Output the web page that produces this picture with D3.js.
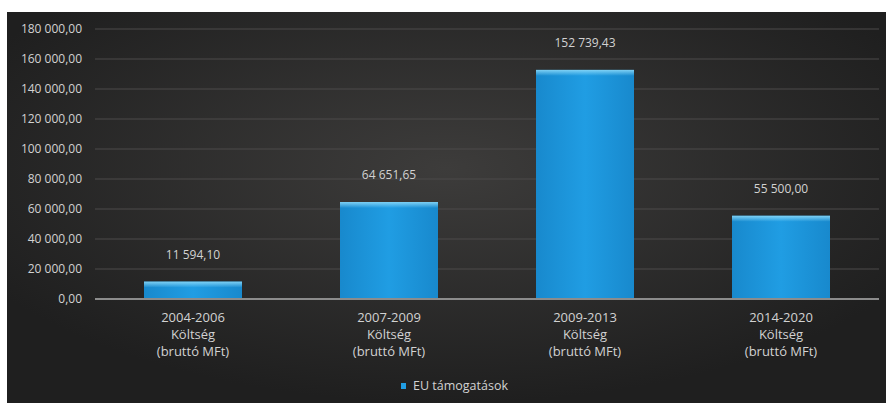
<!DOCTYPE html>
<html>
<head>
<meta charset="utf-8">
<script src="https://cdn.jsdelivr.net/npm/d3@7"></script>
<style>
  body { margin: 0; background: #fff; }
  text { font-family: "Open Sans", sans-serif; }
</style>
</head>
<body>
<svg id="chart" width="886" height="403"></svg>
<script>
// Periods (category labels, three lines each)
var periods = ['2004-2006', '2007-2009', '2009-2013', '2014-2020'];
var subLines = ['Költség', '(bruttó MFt)'];
// EU support values
var euValues = [11594.10, 64651.65, 152739.43, 55500.00];
var seriesName = 'EU támogatások';
var yTicks = [0, 20000, 40000, 60000, 80000, 100000, 120000, 140000, 160000, 180000];

var svg = d3.select('#chart');

// Hungarian style numbers: space thousands, comma decimals
var huLocale = d3.formatLocale({ decimal: ',', thousands: '\u00a0', grouping: [3], currency: ['', ''] });
var fmt = huLocale.format(',.2f');

var defs = svg.append('defs');

// Dark background with a lighter centre
var bg = defs.append('radialGradient').attr('id', 'bgGrad')
    .attr('cx', '50%').attr('cy', '40%').attr('r', '60%');
bg.append('stop').attr('offset', '0%').attr('stop-color', '#3d3c3b');
bg.append('stop').attr('offset', '100%').attr('stop-color', '#1f1f1f');

var barGrad = defs.append('linearGradient').attr('id', 'barGrad')
    .attr('x1', 0).attr('x2', 1).attr('y1', 0).attr('y2', 0);
barGrad.append('stop').attr('offset', '0%').attr('stop-color', '#1889cd');
barGrad.append('stop').attr('offset', '50%').attr('stop-color', '#209de3');
barGrad.append('stop').attr('offset', '100%').attr('stop-color', '#1889cd');

// Soft highlight on the bar tops
var topGrad = defs.append('linearGradient').attr('id', 'topGrad')
    .attr('x1', 0).attr('x2', 0).attr('y1', 0).attr('y2', 1);
topGrad.append('stop').attr('offset', '0%').attr('stop-color', '#8ad8f8').attr('stop-opacity', 0.9);
topGrad.append('stop').attr('offset', '100%').attr('stop-color', '#8ad8f8').attr('stop-opacity', 0);

svg.append('rect')
    .attr('x', 7).attr('y', 12)
    .attr('width', 879).attr('height', 391)
    .attr('fill', 'url(#bgGrad)');

var margin = { left: 95, right: 7, top: 29, bottom: 104 };
var width = 886 - margin.left - margin.right,
    height = 403 - margin.top - margin.bottom;

var g = svg.append('g')
    .attr('transform', 'translate(' + margin.left + ',' + margin.top + ')');

var x = d3.scaleBand()
    .domain(periods)
    .range([0, width])
    .paddingInner(0.5)
    .paddingOuter(0.25);

var y = d3.scaleLinear()
    .domain([0, 180000])
    .range([height, 0]);

// Gridlines
g.append('g')
    .selectAll('line')
    .data(yTicks.slice(1))
    .enter()
    .append('line')
    .attr('x1', 0).attr('x2', width)
    .attr('y1', function(d) { return y(d); })
    .attr('y2', function(d) { return y(d); })
    .attr('stroke', '#4c4b4a')
    .attr('stroke-width', 1);

// Y axis labels
var yAxis = d3.axisLeft(y)
    .tickValues(yTicks)
    .tickSize(0)
    .tickPadding(13)
    .tickFormat(fmt);
var yg = g.append('g').call(yAxis);
yg.select('.domain').remove();
yg.selectAll('text')
    .attr('fill', '#d2d2d2')
    .attr('font-size', '12px');

// Bars
var bars = g.selectAll('g.bar')
    .data(euValues)
    .enter()
    .append('g')
    .classed('bar', true);

bars.append('rect')
    .attr('x', function(d, i) { return x(periods[i]); })
    .attr('y', function(d) { return y(d); })
    .attr('width', x.bandwidth())
    .attr('height', function(d) { return height - y(d); })
    .attr('fill', 'url(#barGrad)');

bars.append('rect')
    .attr('x', function(d, i) { return x(periods[i]); })
    .attr('y', function(d) { return y(d); })
    .attr('width', x.bandwidth())
    .attr('height', 6)
    .attr('fill', 'url(#topGrad)');

// Value labels
bars.append('text')
    .attr('x', function(d, i) { return x(periods[i]) + x.bandwidth() / 2; })
    .attr('y', function(d) { return y(d) - 23; })
    .attr('text-anchor', 'middle')
    .attr('fill', '#d2d2d2')
    .attr('font-size', '12px')
    .text(function(d) { return fmt(d); });

// Zero line
g.append('line')
    .attr('x1', 0).attr('x2', width)
    .attr('y1', height).attr('y2', height)
    .attr('stroke', '#8c8c8c')
    .attr('stroke-width', 2);

// Category labels
var cat = g.selectAll('text.cat')
    .data(periods)
    .enter()
    .append('text')
    .classed('cat', true)
    .attr('text-anchor', 'middle')
    .attr('fill', '#d2d2d2')
    .attr('font-size', '13px')
    .attr('transform', function(d) {
        return 'translate(' + (x(d) + x.bandwidth() / 2) + ',' + (height + 23) + ')';
    });
cat.each(function(d) {
    var t = d3.select(this);
    [d].concat(subLines).forEach(function(line, k) {
        t.append('tspan').attr('x', 0).attr('dy', k === 0 ? 0 : 17).text(line);
    });
});

// Legend
var legend = svg.append('g').attr('transform', 'translate(401,390)');
legend.append('rect')
    .attr('x', 0).attr('y', -7)
    .attr('width', 5).attr('height', 6)
    .attr('fill', '#209de3');
legend.append('text')
    .attr('x', 12).attr('y', 0)
    .attr('fill', '#d2d2d2')
    .attr('font-size', '12.5px')
    .text(seriesName);
</script>
</body>
</html>
